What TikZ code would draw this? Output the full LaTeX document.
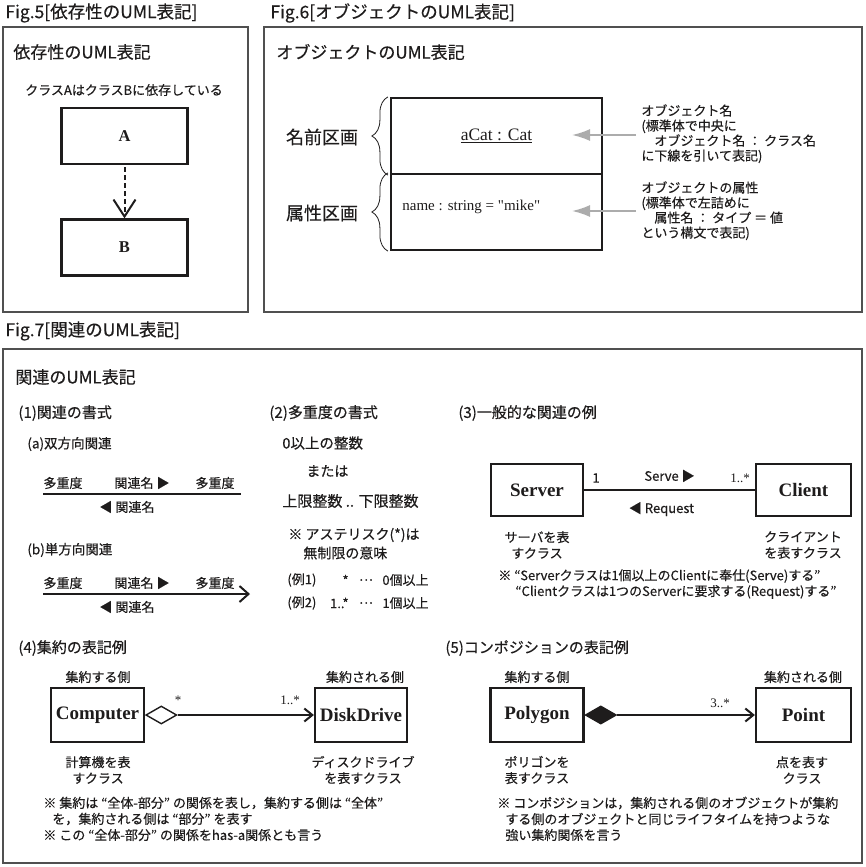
\documentclass[tikz,border=0pt]{standalone}
\usepackage{fontspec}
\setmainfont[FakeBold=0.4]{Noto Sans CJK JP}
\newfontfamily\clsfont[Ligatures=TeXOff]{Liberation Serif}
\usetikzlibrary{arrows.meta,positioning,shapes.geometric,decorations.pathreplacing}
\definecolor{ink}{RGB}{30,28,28}
\definecolor{rim}{RGB}{80,80,80}
\definecolor{pale}{RGB}{172,172,172}
\tikzset{
  every picture/.style={color=ink, line width=0.8pt},
  rim/.style={draw=rim, line width=1.6pt},
  fig/.style={anchor=west, inner sep=0pt, font=\fontsize{17.5}{19}\selectfont},
  head/.style={anchor=west, inner sep=0pt, font=\fontsize{17}{20}\selectfont},
  sub/.style={anchor=west, inner sep=0pt, font=\fontsize{15}{18}\selectfont},
  subs/.style={anchor=west, inner sep=0pt, font=\fontsize{13.5}{16}\selectfont},
  big/.style={inner sep=0pt, font=\fontsize{18}{20}\selectfont},
  txt/.style={inner sep=0pt, align=center, font=\fontsize{13}{16}\selectfont},
  rule/.style={anchor=west, inner sep=0pt, font=\fontsize{14}{17}\selectfont},
  note/.style={anchor=west, inner sep=0pt, font=\fontsize{13}{16}\selectfont},
  ann/.style={anchor=north west, inner sep=0pt, align=left, font=\fontsize{13}{15}\selectfont},
  lbl/.style={inner sep=0pt, font=\fontsize{13}{16}\selectfont},
  mult/.style={inner sep=0pt, font=\clsfont\fontsize{13}{15}\selectfont},
  cls/.style={draw=ink, line width=2.2pt, inner sep=0pt, minimum height=54pt, font=\clsfont\bfseries\fontsize{19}{21}\selectfont},
  part/.style={draw=ink, line width=2.2pt, inner sep=0pt, minimum width=211pt, minimum height=76pt},
  objtxt/.style={inner sep=0pt, font=\clsfont\fontsize{17.5}{20}\selectfont},
  brc/.style={decorate, decoration={brace, amplitude=16pt}, line width=0.8pt},
  hint/.style={draw=pale, line width=1.8pt, -{Latex[length=18pt,width=12pt]}},
  dep/.style={line width=2pt, dash pattern=on 5pt off 3pt, -{Straight Barb[length=17pt,width=22pt]}},
  plain/.style={line width=2pt},
  navi/.style={line width=2pt, -{Straight Barb[length=9pt,width=16pt]}},
  link/.style={line width=2pt},
  has/.style={line width=2pt, -{Straight Barb[length=8pt,width=13pt]}},
  hollowdia/.style={shape=diamond, draw=ink, fill=white, line width=1.4pt, inner sep=0pt, minimum width=31pt, minimum height=18pt, anchor=west},
  filldia/.style={hollowdia, fill=ink},
}

\begin{document}
\begin{tikzpicture}[x=1pt, y=-1pt]
  \useasboundingbox (0,0) rectangle (865,867);
  % titles and frames
  \node[fig] (t5) at (5,13) {Fig.5[依存性のUML表記]};
  \node[fig] (t6) at (270,13) {Fig.6[オブジェクトのUML表記]};
  \node[fig] (t7) at (5,331) {Fig.7[関連のUML表記]};
  \draw[rim] (3,27) rectangle (248,312);
  \draw[rim] (264,27) rectangle (862,312);
  \draw[rim] (3,349) rectangle (862,863);

  % Fig.5
  \node[head] (h5) at (13,52) {依存性のUML表記};
  \node[txt] (c5) at (124,90) {クラスAはクラスBに依存している};
  \node[cls, minimum width=126pt, minimum height=56pt, font=\clsfont\bfseries\fontsize{16.5}{18}\selectfont] (A) at (124.5,136) {A};
  \node[cls, minimum width=126pt, minimum height=56pt, font=\clsfont\bfseries\fontsize{16.5}{18}\selectfont] (B) at (124.5,247.5) {B};
  \draw[dep, shorten <=2pt] (A) -- (B);

  % Fig.6
  \node[head] (h6) at (276,52) {オブジェクトのUML表記};
  \node[part] (nmbox) at (496.5,136) {};
  \node[part] (atbox) at (496.5,212) {};
  \node[objtxt] (objname) at (nmbox) {\underline{aCat : Cat}};
  \node[objtxt, anchor=west, font=\clsfont\fontsize{15}{18}\selectfont] (objattr) at (402,207) {name : string = "mike"};
  \node[big] (lb1) at (322,137) {名前区画};
  \node[big] (lb2) at (322,213) {属性区画};
  \draw[brc] ([xshift=-2pt]nmbox.south west) -- ([xshift=-2pt]nmbox.north west);
  \draw[brc] ([xshift=-2pt]atbox.south west) -- ([xshift=-2pt]atbox.north west);
  \node[ann] (ann1) at (641,104) {オブジェクト名\\(標準体で中央に\\\hspace*{1em}オブジェクト名 ： クラス名\\に下線を引いて表記)};
  \node[ann] (ann2) at (641,181) {オブジェクトの属性\\(標準体で左詰めに\\\hspace*{1em}属性名 ： タイプ ＝ 値\\という構文で表記)};
  \coordinate (tail1) at (636,135);
  \coordinate (tip1) at (572,135);
  \coordinate (tail2) at (636,211);
  \coordinate (tip2) at (572,211);
  \draw[hint] (tail1) -- (tip1);
  \draw[hint] (tail2) -- (tip2);

  % Fig.7
  \node[head] (h7) at (15,377) {関連のUML表記};
  \node[sub] (s1) at (18,413) {(1)関連の書式};
  \node[sub] (s2) at (269,413) {(2)多重度の書式};
  \node[sub] (s3) at (458,413) {(3)一般的な関連の例};
  \node[sub] (s4) at (18,648) {(4)集約の表記例};
  \node[sub] (s5) at (445,648) {(5)コンポジションの表記例};

  % (1) association lines
  \node[subs] (sa) at (27,444) {(a)双方向関連};
  \node[subs] (sb) at (27,550) {(b)単方向関連};
  \foreach \side/\yy/\xe/\sty in {a/494/241/plain, b/594/250/navi} {
    \coordinate (\side1) at (43,\yy);
    \coordinate (\side2) at (\xe,\yy);
    \draw[\sty] (\side1) -- (\side2);
    \node[lbl] (\side m1) at (63,\yy-11) {多重度};
    \node[lbl] (\side n1) at (142,\yy-11) {関連名 ▶};
    \node[lbl] (\side m2) at (215,\yy-11) {多重度};
    \node[lbl] (\side n2) at (127,\yy+13) {◀ 関連名};
  }

  % (2) multiplicity
  \node[rule, font=\fontsize{14.5}{17}\selectfont] (r1) at (282,443) {0以上の整数};
  \node[rule] (r2) at (306,471) {または};
  \node[rule, font=\fontsize{15}{17}\selectfont] (r3) at (282,501) {上限整数 .. 下限整数};
  \node[rule] (r4) at (288,535) {※ アステリスク(*)は};
  \node[rule] (r5) at (303,553) {無制限の意味};
  \foreach \idx/\mlt/\low/\yy in {1/*/0/580, 2/1..*/1/603} {
    \node[note] (ex\idx) at (287,\yy) {(例\idx)};
    \node[lbl, anchor=east] (mu\idx) at (349,\yy) {\mlt};
    \node[lbl] (dd\idx) at (366,\yy) {…};
    \node[note] (ct\idx) at (382,\yy) {\low 個以上};
  }

  % (3) general association
  \node[cls, minimum width=92pt, minimum height=52pt] (srv) at (537,490) {Server};
  \node[cls, minimum width=95pt, minimum height=52pt] (cli) at (803.5,490) {Client};
  \draw[link] (srv) -- node[lbl, above=7pt] (serve) {Serve ▶} node[lbl, below=11pt, xshift=-8pt] (req) {◀ Request} (cli);
  \node[lbl] (m3a) at (596,478) {1};
  \node[mult] (m3b) at (740,478) {1..*};
  \node[txt] (srvdesc) at (537,545) {サーバを表\\すクラス};
  \node[txt] (clidesc) at (803,545) {クライアント\\を表すクラス};
  \node[note] (n3a) at (498,576) {※ “Serverクラスは1個以上のClientに奉仕(Serve)する”};
  \node[note] (n3b) at (515,592) {“Clientクラスは1つのServerに要求する(Request)する”};

  % (4) aggregation
  \node[txt] (whole4) at (98,677) {集約する側};
  \node[txt] (part4) at (365,677) {集約される側};
  \node[cls, minimum width=93pt] (cmp) at (97.5,715) {Computer};
  \node[cls, minimum width=92pt] (dsk) at (361,715) {DiskDrive};
  \node[hollowdia] (dia1) at (cmp.east) {};
  \draw[has] (dia1) -- (dsk);
  \node[mult] (m4a) at (178,700) {*};
  \node[mult] (m4b) at (290,700) {1..*};
  \node[txt] (cmpdesc) at (98,770) {計算機を表\\すクラス};
  \node[txt] (dskdesc) at (363,770) {ディスクドライブ\\を表すクラス};
  \foreach \xx/\yy/\msg in {43/803/{※ 集約は “全体-部分” の関係を表し，集約する側は “全体”}, 52/819/{を，集約される側は “部分” を表す}, 43/835/{※ この “全体-部分” の関係をhas-a関係とも言う}}
    \node[note] (agg\yy) at (\xx,\yy) {\msg};

  % (5) composition
  \node[txt] (whole5) at (537,677) {集約する側};
  \node[txt] (part5) at (803,677) {集約される側};
  \node[cls, minimum width=93pt] (pgn) at (537,715) {Polygon};
  \node[cls, minimum width=95pt] (pnt) at (803.5,715) {Point};
  \node[filldia] (dia2) at (pgn.east) {};
  \draw[has] (dia2) -- (pnt);
  \node[mult] (m5) at (720,703) {3..*};
  \node[txt] (pgndesc) at (537,770) {ポリゴンを\\表すクラス};
  \node[txt] (pntdesc) at (802,770) {点を表す\\クラス};
  \foreach \xx/\yy/\msg in {497/803/{※ コンポジションは，集約される側のオブジェクトが集約}, 505/819/{する側のオブジェクトと同じライフタイムを持つような}, 505/835/{強い集約関係を言う}}
    \node[note] (cmp\yy) at (\xx,\yy) {\msg};
\end{tikzpicture}
\end{document}
